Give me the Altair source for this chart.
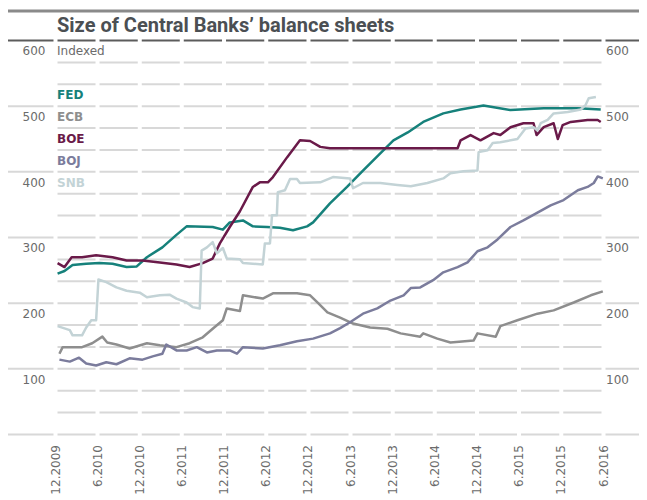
import altair as alt
import pandas as pd

# ---------------- data ----------------
banks = ["FED", "ECB", "BOE", "BOJ", "SNB"]
bank_colors = ["#16817b", "#8e8e8e", "#6a1a49", "#7b7c9c", "#c3d3d6"]

fed_dates = ["2009-12-10", "2010-01-09", "2010-02-13", "2010-04-13", "2010-06-09", "2010-08-05",
             "2010-10-05", "2010-11-18", "2011-01-01", "2011-03-09", "2011-05-09", "2011-06-22",
             "2011-10-13", "2011-11-26", "2011-12-26", "2012-02-21", "2012-04-04", "2012-06-04",
             "2012-07-30", "2012-09-25", "2012-11-25", "2012-12-21", "2013-03-04", "2013-05-17",
             "2013-07-25", "2013-10-08", "2013-12-04", "2014-02-04", "2014-04-12", "2014-07-08",
             "2014-09-21", "2014-12-29", "2015-04-25", "2015-09-16", "2016-02-11", "2016-05-20"]
fed_values = [245, 249, 258, 260, 261, 260, 255, 256, 270, 285, 304, 317,
              316, 312, 323, 326, 317, 316, 315, 311, 317, 323, 352, 377,
              402, 428, 448, 460, 476, 489, 495, 501, 494, 497, 497, 495]

ecb_dates = ["2009-12-18", "2010-01-01", "2010-03-26", "2010-05-09", "2010-06-22", "2010-07-13",
             "2010-08-22", "2010-10-18", "2011-01-01", "2011-02-26", "2011-05-09", "2011-07-05",
             "2011-08-31", "2011-10-13", "2011-11-26", "2011-12-13", "2012-02-08", "2012-02-21",
             "2012-05-17", "2012-06-30", "2012-10-12", "2012-12-08", "2013-01-12", "2013-02-21",
             "2013-04-17", "2013-06-12", "2013-08-25", "2013-11-08", "2014-01-04", "2014-03-30",
             "2014-04-12", "2014-06-12", "2014-08-08", "2014-11-16", "2014-12-03", "2015-02-20",
             "2015-03-12", "2015-05-25", "2015-08-20", "2015-10-29", "2016-01-24", "2016-04-07",
             "2016-05-29"]
ecb_values = [123, 133, 133, 139, 149, 140, 137, 131, 139, 136, 133, 139,
              148, 161, 174, 192, 188, 212, 207, 215, 215, 212, 200, 186,
              178, 169, 163, 161, 154, 149, 154, 146, 140, 143, 154, 149,
              165, 174, 184, 189, 201, 212, 218]

boe_dates = ["2009-12-10", "2010-01-09", "2010-02-09", "2010-03-26", "2010-05-26", "2010-08-05",
             "2010-10-05", "2010-12-13", "2011-02-26", "2011-05-09", "2011-07-05", "2011-08-31",
             "2011-10-13", "2011-11-13", "2011-12-26", "2012-02-08", "2012-04-04", "2012-05-04",
             "2012-06-08", "2012-06-30", "2012-08-30", "2012-10-25", "2012-12-08", "2013-01-21",
             "2013-03-04", "2014-09-08", "2014-09-21", "2014-11-03", "2014-12-16", "2015-02-11",
             "2015-03-12", "2015-04-25", "2015-06-20", "2015-08-03", "2015-08-16", "2015-09-16",
             "2015-10-29", "2015-11-16", "2015-12-07", "2016-01-11", "2016-03-24", "2016-05-07",
             "2016-05-20"]
boe_values = [261, 255, 270, 270, 273, 270, 265, 265, 262, 259, 255, 261,
              268, 291, 316, 340, 377, 384, 384, 392, 422, 448, 447, 438,
              436, 436, 448, 456, 448, 459, 456, 468, 474, 474, 456, 468,
              474, 450, 471, 476, 479, 479, 476]

boj_dates = ["2009-12-18", "2010-02-01", "2010-03-13", "2010-04-13", "2010-05-26", "2010-07-09",
             "2010-08-22", "2010-10-18", "2010-12-13", "2011-01-26", "2011-03-09", "2011-03-26",
             "2011-05-09", "2011-06-22", "2011-08-05", "2011-09-18", "2011-10-31", "2011-12-26",
             "2012-01-26", "2012-02-21", "2012-05-17", "2012-07-30", "2012-10-12", "2012-12-21",
             "2013-03-04", "2013-04-17", "2013-05-30", "2013-07-25", "2013-09-25", "2013-11-21",
             "2014-01-17", "2014-02-17", "2014-03-30", "2014-05-25", "2014-07-08", "2014-09-08",
             "2014-10-21", "2014-12-03", "2015-01-16", "2015-02-28", "2015-04-25", "2015-06-20",
             "2015-08-20", "2015-10-16", "2015-12-11", "2016-02-11", "2016-03-24", "2016-04-20",
             "2016-05-07", "2016-05-29"]
boj_values = [114, 111, 117, 108, 105, 110, 107, 116, 114, 119, 123, 137,
              128, 128, 133, 125, 128, 128, 123, 133, 131, 136, 142, 146,
              154, 162, 171, 184, 192, 204, 212, 223, 224, 235, 247, 255,
              262, 279, 285, 297, 316, 326, 338, 349, 357, 372, 377, 383,
              393, 390]

snb_dates = ["2009-12-10", "2010-02-01", "2010-02-13", "2010-03-26", "2010-04-13", "2010-05-05",
             "2010-05-26", "2010-06-05", "2010-07-09", "2010-08-22", "2010-10-05", "2010-12-01",
             "2011-01-01", "2011-02-26", "2011-04-09", "2011-05-09", "2011-06-22", "2011-07-18",
             "2011-08-18", "2011-08-26", "2011-09-18", "2011-10-13", "2011-10-31", "2011-11-26",
             "2011-12-13", "2012-02-08", "2012-02-21", "2012-05-17", "2012-05-26", "2012-06-17",
             "2012-06-26", "2012-07-17", "2012-07-21", "2012-08-21", "2012-09-12", "2012-10-12",
             "2012-10-25", "2013-01-21", "2013-03-17", "2013-05-30", "2013-06-12", "2013-07-25",
             "2013-10-08", "2013-12-21", "2014-02-17", "2014-04-30", "2014-07-08", "2014-08-08",
             "2014-10-03", "2014-12-03", "2014-12-08", "2015-01-16", "2015-02-07", "2015-03-12",
             "2015-05-25", "2015-06-29", "2015-08-03", "2015-08-20", "2015-09-03", "2015-10-03",
             "2015-10-29", "2015-12-29", "2016-02-24", "2016-03-16", "2016-03-29", "2016-04-29"]
snb_values = [165, 159, 151, 151, 163, 174, 174, 236, 232, 224, 219, 216,
              209, 212, 213, 207, 201, 194, 192, 280, 285, 293, 276, 284,
              268, 267, 261, 259, 291, 291, 334, 334, 369, 372, 389, 389,
              383, 384, 392, 390, 375, 383, 383, 380, 378, 383, 390, 398,
              401, 402, 430, 433, 444, 445, 450, 466, 468, 463, 474, 479,
              489, 491, 495, 502, 512, 514]

tick_dates = ["2009-12-01", "2010-06-01", "2010-12-01", "2011-06-01", "2011-12-01", "2012-06-01",
              "2012-12-01", "2013-06-01", "2013-12-01", "2014-06-01", "2014-12-01", "2015-06-01",
              "2015-12-01", "2016-06-01"]
tick_labels = ["12.2009", "6.2010", "12.2010", "6.2011", "12.2011", "6.2012", "12.2012",
               "6.2013", "12.2013", "6.2014", "12.2014", "6.2015", "12.2015", "6.2016"]

y_major = [0, 100, 200, 300, 400, 500]
y_labels = [600, 500, 400, 300, 200, 100]

# ---------------- layout ----------------
W, H = 631, 488
K = (434.5 - 40.5) / 600.0          # px per index unit
y_max = 600 + (40.5 - 8) / K
y_min = -(8 + H - 434.5) / K
yscale = alt.Scale(domain=[y_min, y_max])

t0 = pd.Timestamp(tick_dates[0])
t13 = pd.Timestamp(tick_dates[-1])
px0, px13 = 55.5 - 8, 603.5 - 8
ns_per_px = (t13 - t0).value / (px13 - px0)
tmin_ns = t0.value - px0 * ns_per_px
tmax_ns = tmin_ns + W * ns_per_px
xscale = alt.Scale(domain=[tmin_ns / 1e6, tmax_ns / 1e6])

band = 100.0 / 6
minor = [100.0 * j / 3 for j in range(1, 18) if j % 3]

series = {"FED": (fed_dates, fed_values), "ECB": (ecb_dates, ecb_values),
          "BOE": (boe_dates, boe_values), "BOJ": (boj_dates, boj_values),
          "SNB": (snb_dates, snb_values)}
rows = []
for b, (ds, vs) in series.items():
    for d, v in zip(ds, vs):
        rows.append({"bank": b, "date": d, "value": v})
df = pd.DataFrame(rows)

color = alt.Color("bank:N", scale=alt.Scale(domain=banks, range=bank_colors), legend=None)
grid_col = "#d8d8d8"
label_col = "#6b6b6b"
lab_font = "DejaVu Sans"

one = pd.DataFrame({"k": [0]})

top_rule = alt.Chart(one).mark_rule(color="#8a8a8a", strokeWidth=3).encode(
    x=alt.value(0), x2=alt.value(W), y=alt.value(3))

major_df = pd.DataFrame({"v": y_major})
major = alt.Chart(major_df).mark_rule(color=grid_col, strokeWidth=2).encode(
    x=alt.value(0), x2=alt.value(W), y=alt.Y("v:Q", scale=yscale, axis=None))

top_df = pd.DataFrame({"v": [600]})
top600 = alt.Chart(top_df).mark_rule(color="#5c5c5c", strokeWidth=2).encode(
    x=alt.value(0), x2=alt.value(W), y=alt.Y("v:Q", scale=yscale, axis=None))

minor_df = pd.DataFrame({"v": minor, "a": tick_dates[0], "b": tick_dates[-1]})
minor_r = alt.Chart(minor_df).mark_rule(color=grid_col, strokeWidth=2).encode(
    x=alt.X("a:T", scale=xscale, axis=None), x2="b:T",
    y=alt.Y("v:Q", scale=yscale, axis=None))

gap_df = pd.DataFrame({"d": tick_dates, "lo": -3, "hi": 603})
gaps = alt.Chart(gap_df).mark_rule(color="white", strokeWidth=4).encode(
    x=alt.X("d:T", scale=xscale, axis=None),
    y=alt.Y("lo:Q", scale=yscale, axis=None), y2="hi:Q")

lines = alt.Chart(df).mark_line(strokeWidth=2.5, strokeJoin="round").encode(
    x=alt.X("date:T", scale=xscale, axis=None),
    y=alt.Y("value:Q", scale=yscale, axis=None),
    color=color, detail="bank:N", order="date:T")

ylab_df = pd.DataFrame({"v": [v - band for v in y_labels], "t": [str(v) for v in y_labels]})
ylab_left = alt.Chart(ylab_df).mark_text(align="right", baseline="middle", font=lab_font,
                                         fontSize=12, color=label_col).encode(
    x=alt.value(45.5 - 8), y=alt.Y("v:Q", scale=yscale, axis=None), text="t:N")
ylab_right = alt.Chart(ylab_df).mark_text(align="left", baseline="middle", font=lab_font,
                                          fontSize=12, color=label_col).encode(
    x=alt.value(606 - 8), y=alt.Y("v:Q", scale=yscale, axis=None), text="t:N")

idx_df = pd.DataFrame({"v": [600 - band], "t": ["Indexed"]})
indexed = alt.Chart(idx_df).mark_text(align="left", baseline="middle", font=lab_font,
                                      fontSize=12, color=label_col).encode(
    x=alt.value(57 - 8), y=alt.Y("v:Q", scale=yscale, axis=None), text="t:N")

leg_df = pd.DataFrame({"bank": banks, "v": [533.33 - band - 33.333 * i for i in range(5)]})
legend = alt.Chart(leg_df).mark_text(align="left", baseline="middle", font=lab_font,
                                     fontSize=12, fontWeight="bold").encode(
    x=alt.value(57 - 8), y=alt.Y("v:Q", scale=yscale, axis=None), text="bank:N", color=color)

xlab_df = pd.DataFrame({"d": tick_dates, "t": tick_labels})
xlabels = alt.Chart(xlab_df).mark_text(angle=270, align="right", baseline="middle",
                                       font=lab_font, fontSize=12, color=label_col).encode(
    x=alt.X("d:T", scale=xscale, axis=None), y=alt.value(445 - 8), text="t:N")

title_df = pd.DataFrame({"t": ["Size of Central Banks\u2019 balance sheets"]})
title = alt.Chart(title_df).mark_text(align="left", baseline="alphabetic", font="Roboto",
                                      fontSize=20, fontWeight="bold", color="#4b4f53").encode(
    x=alt.value(57 - 8), y=alt.value(32 - 8), text="t:N")

chart = alt.layer(top_rule, major, minor_r, top600, gaps, lines, ylab_left, ylab_right,
                  indexed, legend, xlabels, title).properties(
    width=W, height=H, padding=0, autosize="none", background="white"
).configure_view(stroke=None)

chart.save("out.html", embed_options={"renderer": "svg", "actions": False})
